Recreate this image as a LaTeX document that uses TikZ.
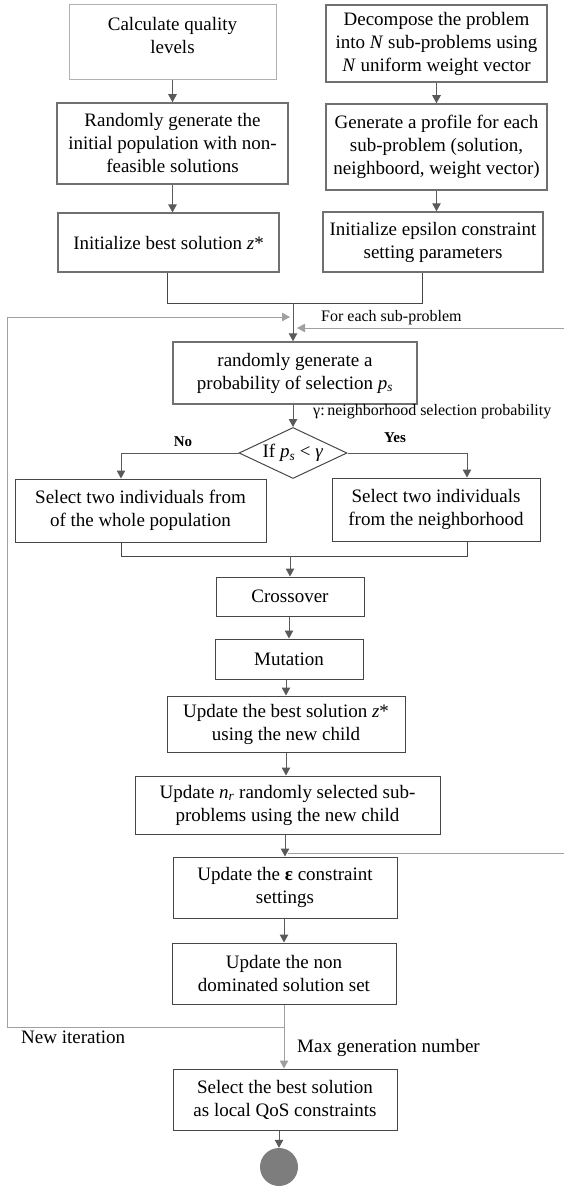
\documentclass[tikz,border=0pt]{standalone}
\usepackage{fontspec}
\setmainfont{Liberation Serif}
\usetikzlibrary{shapes.geometric,arrows.meta}

\definecolor{lightline}{RGB}{176,176,176}
\definecolor{boxline}{RGB}{112,112,112}
\definecolor{darkline}{RGB}{70,70,70}
\definecolor{arrowgray}{RGB}{90,90,90}
\definecolor{loopgray}{RGB}{160,160,160}
\definecolor{endgray}{RGB}{125,125,125}

\tikzset{
  box/.style={draw=boxline,line width=1.5pt,align=center,inner sep=0pt},
  thinbox/.style={draw=darkline,line width=1pt,align=center,inner sep=0pt},
  note/.style={inner sep=0pt,anchor=west},
  arr/.style={draw=arrowgray,line width=1pt,-{Triangle[length=8pt,width=8.5pt]}},
  looparr/.style={draw=loopgray,line width=1pt,-{Triangle[length=8pt,width=8.5pt]}},
  plain/.style={draw=darkline,line width=1pt}
}

\begin{document}
\begin{tikzpicture}[x=1pt,y=-1pt,font=\fontsize{19}{23}\selectfont]
  \useasboundingbox (0,0) rectangle (564,1188);

  \node[box,draw=lightline,line width=1pt,minimum width=207pt,minimum height=75pt] (calc) at (172.5,42.5) {};
  \node[align=center,inner sep=0pt] (calctext) at (172.5,35.5) {Calculate quality\\levels};
  \node[box,minimum width=221pt,minimum height=77pt] (decomp) at (436.5,43.5) {Decompose the problem\\into \textit{N} sub-problems using\\\textit{N} uniform weight vector};
  \node[box,minimum width=231pt,minimum height=81pt] (randpop) at (172.5,143.5) {Randomly generate the\\initial population with non-\\feasible solutions};
  \node[box,minimum width=221pt,minimum height=86pt] (profile) at (436.5,147) {Generate a profile for each\\sub-problem (solution,\\neighboord, weight vector)};
  \node[box,line width=1.2pt,minimum width=221pt,minimum height=59pt] (best) at (168.5,242.5) {Initialize best solution \textit{z}*};
  \node[box,minimum width=220pt,minimum height=60pt] (epsinit) at (433,242) {Initialize epsilon constraint\\setting parameters};

  \node[box,minimum width=244pt,minimum height=62pt] (prob) at (295,373) {randomly generate a\\probability of selection \textit{p}\textsubscript{\textit{s}}};
  \node[diamond,draw=darkline,line width=1pt,aspect=2.1,inner sep=0pt,minimum width=108pt,minimum height=51pt] (cond) at (293,453) {If \textit{p}\textsubscript{\textit{s}} < \textit{γ}};
  \node[thinbox,minimum width=251pt,minimum height=63pt] (whole) at (140.5,510.5) {Select two individuals from\\of the whole population};
  \node[thinbox,minimum width=208pt,minimum height=63pt] (neigh) at (436,509.5) {Select two individuals\\from the neighborhood};

  \node[thinbox,minimum width=148pt,minimum height=39pt] (cross) at (290,596.5) {Crossover};
  \node[thinbox,minimum width=148pt,minimum height=40pt] (mut) at (289,659) {Mutation};
  \node[thinbox,minimum width=238pt,minimum height=56pt] (updbest) at (286,724) {Update the best solution \textit{z}*\\using the new child};
  \node[thinbox,minimum width=305pt,minimum height=58pt] (updsub) at (287.5,805) {Update \textit{n}\textsubscript{\textit{r}} randomly selected sub-\\problems using the new child};
  \node[thinbox,minimum width=224pt,minimum height=61pt] (updeps) at (285,887.5) {Update the \textbf{ε} constraint\\settings};
  \node[thinbox,minimum width=224pt,minimum height=61pt] (updnd) at (284,973.5) {Update the non\\dominated solution set};
  \node[thinbox,minimum width=224pt,minimum height=61pt] (final) at (285,1099.5) {Select the best solution\\as local QoS constraints};
  \node[circle,fill=endgray,minimum size=38pt,inner sep=0pt] (stop) at (279,1167) {};

  \node[note,font=\fontsize{16}{19}\selectfont] (foreach) at (321,318) {For each sub-problem};
  \node[note,font=\fontsize{16}{19}\selectfont] (gamma) at (313,412) {γ:\,neighborhood selection probability};
  \node[font=\fontsize{15}{18}\selectfont\bfseries,inner sep=0pt] (no) at (183,442) {No};
  \node[font=\fontsize{15}{18}\selectfont\bfseries,inner sep=0pt] (yes) at (395,438) {Yes};
  \node[note] (newit) at (21,1037) {New iteration};
  \node[note] (maxgen) at (297,1048) {Max generation number};

  \coordinate (jl) at (167,303);
  \coordinate (jr) at (422,303);
  \coordinate (join) at (293,303);
  \coordinate (nol) at (121,453);
  \coordinate (yesr) at (467,453);
  \coordinate (ml) at (121,556);
  \coordinate (mr) at (467,556);
  \coordinate (merge) at (290,556);
  \coordinate (iter) at (284,1027);
  \coordinate (ltop) at (7,317);
  \coordinate (lend) at (290,317);
  \coordinate (rsplit) at (288,853);
  \coordinate (redge) at (590,853);
  \coordinate (rend) at (297,328);

  \draw[arr] (calc.south) -- (randpop.north);
  \draw[arr] (randpop.south) -- (randpop.south |- best.north);
  \draw[arr] (decomp.south) -- (profile.north);
  \draw[arr] (profile.south) -- (profile.south |- epsinit.north);
  \draw[plain] (best.south -| jl) -- (jl) -- (jr) -- (epsinit.south -| jr);
  \draw[arr] (join) -- (join |- prob.north);
  \draw[arr] (prob.south -| cond.north) -- (cond.north);
  \draw[arr] (cond.west) -- (nol) -- (nol |- whole.north);
  \draw[arr] (cond.east) -- (yesr) -- (yesr |- neigh.north);
  \draw[plain] (ml |- whole.south) -- (ml) -- (mr) -- (mr |- neigh.south);
  \draw[arr] (merge) -- (merge |- cross.north);
  \draw[arr] (cross.south -| mut.north) -- (mut.north);
  \draw[arr] (mut.south -| updbest.north) -- (updbest.north);
  \draw[arr] (updbest.south) -- (updbest.south |- updsub.north);
  \draw[arr] (updsub.south -| updeps.north) -- (updeps.north);
  \draw[arr] (updeps.south -| updnd.north) -- (updnd.north);
  \draw[looparr] (updnd.south) -- (updnd.south |- final.north);
  \draw[looparr] (iter) -| (ltop) -- (lend);
  \draw[looparr] (rsplit) -- (redge) |- (rend);
  \draw[arr] (stop |- final.south) -- (stop.north);
\end{tikzpicture}
\end{document}
